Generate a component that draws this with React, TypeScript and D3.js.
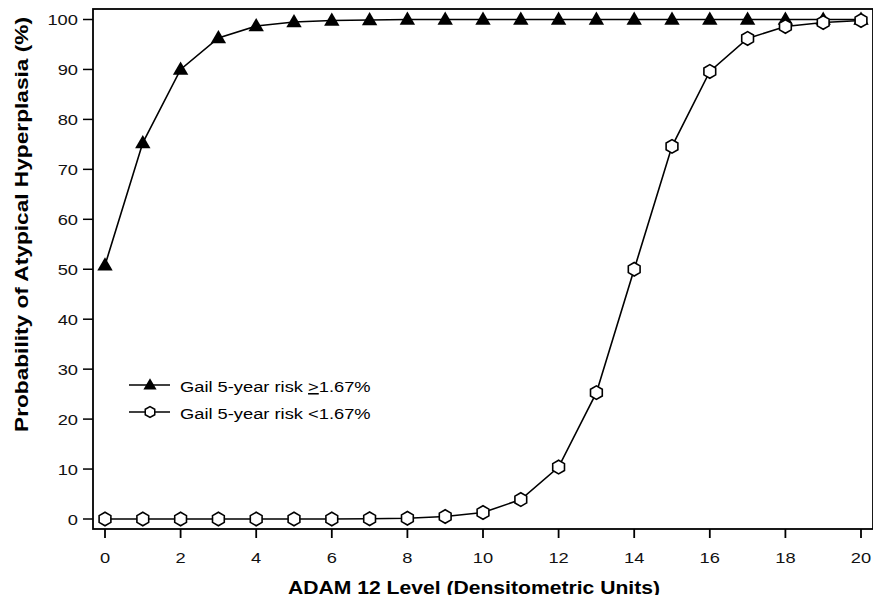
import React, { useEffect, useRef } from "react"
import * as d3 from "d3"

const levels = d3.range(0, 21)
const highRisk = [50.8, 75.3, 90, 96.3, 98.7, 99.5, 99.8, 99.9, 100, 100, 100, 100, 100, 100, 100, 100, 100, 100, 100, 100, 100]
const lowRisk = [0, 0, 0, 0, 0, 0, 0, 0.05, 0.15, 0.5, 1.3, 3.9, 10.4, 25.3, 50, 74.6, 89.6, 96.2, 98.6, 99.4, 99.8]
const xTicks = [0, 2, 4, 6, 8, 10, 12, 14, 16, 18, 20]
const yTicks = [0, 10, 20, 30, 40, 50, 60, 70, 80, 90, 100]

const W = 881
const H = 603
const frame = { left: 93, top: 9, right: 873, bottom: 529 }
const font = "Arial, 'Liberation Sans', sans-serif"

function hexPath(r: number) {
    const pts = d3.range(6).map(i => {
        const a = (Math.PI / 3) * i + Math.PI / 6
        return [r * Math.cos(a), r * Math.sin(a)]
    })
    return "M" + pts.map(p => p.join(",")).join("L") + "Z"
}

function triPath(s: number) {
    const h = s * 0.95
    return `M0,${-h * 0.6}L${s * 0.55},${h * 0.4}L${-s * 0.55},${h * 0.4}Z`
}

// the source text is wider than Arial, stretch it along its own direction
function stretch(sel: any, k: number) {
    sel.each(function (this: SVGTextElement) {
        const len = this.getComputedTextLength()
        this.setAttribute("textLength", String(len * k))
        this.setAttribute("lengthAdjust", "spacingAndGlyphs")
    })
}

export default function App() {
    const ref = useRef<SVGSVGElement>(null)

    useEffect(() => {
        const svg = d3.select(ref.current)
        svg.selectAll("*").remove()

        const x = d3.scaleLinear().domain([0, 20]).range([105, 861])
        const y = d3.scaleLinear().domain([0, 100]).range([519, 19.5])

        // frame
        svg.append("rect")
            .attr("x", frame.left)
            .attr("y", frame.top)
            .attr("width", frame.right - frame.left)
            .attr("height", frame.bottom - frame.top)
            .attr("fill", "none")
            .attr("stroke", "#000")
            .attr("stroke-width", 1.8)

        // x ticks
        const gx = svg.append("g")
        gx.selectAll("line").data(xTicks).enter().append("line")
            .attr("x1", d => x(d)).attr("x2", d => x(d))
            .attr("y1", frame.bottom).attr("y2", frame.bottom + 9)
            .attr("stroke", "#000").attr("stroke-width", 1.8)
        const xl = gx.selectAll("text").data(xTicks).enter().append("text")
            .attr("x", d => x(d)).attr("y", 563)
            .attr("text-anchor", "middle")
            .attr("font-family", font).attr("font-size", 15.5).attr("fill", "#111")
            .text(d => d)
        stretch(xl, 1.18)

        // y ticks
        const gy = svg.append("g")
        gy.selectAll("line").data(yTicks).enter().append("line")
            .attr("x1", frame.left - 10).attr("x2", frame.left)
            .attr("y1", d => y(d)).attr("y2", d => y(d))
            .attr("stroke", "#000").attr("stroke-width", 1.5)
        const yl = gy.selectAll("text").data(yTicks).enter().append("text")
            .attr("x", 78).attr("y", d => y(d) + 5.5)
            .attr("text-anchor", "end")
            .attr("font-family", font).attr("font-size", 15.5).attr("fill", "#111")
            .text(d => d)
        stretch(yl, 1.18)

        // titles
        svg.append("text")
            .attr("x", 474)
            .attr("y", 594)
            .attr("text-anchor", "middle")
            .attr("font-family", font)
            .attr("font-weight", "bold")
            .attr("font-size", 18)
            .attr("textLength", 372)
            .attr("lengthAdjust", "spacingAndGlyphs")
            .text("ADAM 12 Level (Densitometric Units)")
        svg.append("text")
            .attr("transform", `translate(28,224.5) rotate(-90)`)
            .attr("text-anchor", "middle")
            .attr("font-family", font)
            .attr("font-weight", "bold")
            .attr("font-size", 18)
            .attr("textLength", 415)
            .attr("lengthAdjust", "spacingAndGlyphs")
            .text("Probability of Atypical Hyperplasia (%)")

        const line = d3.line<number>().x((d, i) => x(levels[i])).y(d => y(d))

        svg.append("path")
            .attr("d", line(highRisk))
            .attr("fill", "none")
            .attr("stroke", "#000")
            .attr("stroke-width", 1.6)
        svg.append("path")
            .attr("d", line(lowRisk))
            .attr("fill", "none")
            .attr("stroke", "#000")
            .attr("stroke-width", 1.6)

        svg.append("g").selectAll("path")
            .data(highRisk)
            .enter()
            .append("path")
            .attr("d", triPath(14))
            .attr("transform", (d, i) => `translate(${x(levels[i])},${y(d)})`)
            .attr("fill", "#000")

        svg.append("g").selectAll("path")
            .data(lowRisk)
            .enter()
            .append("path")
            .attr("d", hexPath(6.8))
            .attr("transform", (d, i) => `translate(${x(levels[i])},${y(d)})`)
            .attr("fill", "#fff")
            .attr("stroke", "#000")
            .attr("stroke-width", 1.6)

        // legend
        const lg = svg.append("g")
        const rows = [
            { yy: 385, ty: 392, tri: true },
            { yy: 412, ty: 419, tri: false }
        ]
        rows.forEach(r => {
            lg.append("line")
                .attr("x1", 129).attr("x2", 170)
                .attr("y1", r.yy).attr("y2", r.yy)
                .attr("stroke", "#000").attr("stroke-width", 1.6)
            if (r.tri) {
                lg.append("path").attr("d", triPath(12)).attr("transform", `translate(150,${r.yy})`).attr("fill", "#000")
            } else {
                lg.append("path").attr("d", hexPath(5.5)).attr("transform", `translate(150,${r.yy})`)
                    .attr("fill", "#fff").attr("stroke", "#000").attr("stroke-width", 1.5)
            }
            const t = lg.append("text")
                .attr("x", 180).attr("y", r.ty)
                .attr("font-family", font).attr("font-size", 15.5)
            if (r.tri) {
                t.append("tspan").text("Gail 5-year risk ")
                t.append("tspan").attr("text-decoration", "underline").text(">")
                t.append("tspan").text("1.67%")
            } else {
                t.text("Gail 5-year risk <1.67%")
            }
            stretch(t, 1.18)
        })
    }, [])

    return <svg ref={ref} width={W} height={H} style={{ display: "block", margin: -8 }} />
}
